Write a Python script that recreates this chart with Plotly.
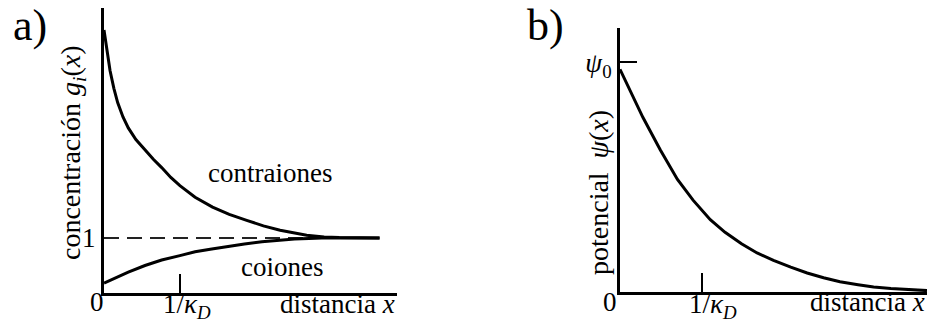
import plotly.graph_objects as go

# ---- Data (x in units of 1/kappa_D) ----
# Panel a: concentration g_i(x)
x_contra = [0, 0.04, 0.08, 0.13, 0.18, 0.25, 0.32, 0.42, 0.54, 0.65, 0.76, 0.88, 1.0, 1.2, 1.43, 1.65, 1.88, 2.1, 2.32, 2.5, 2.67, 2.9, 3.1, 3.63]
g_contra = [4.78, 4.40, 4.04, 3.72, 3.46, 3.20, 3.0, 2.79, 2.6, 2.43, 2.28, 2.10, 1.95, 1.74, 1.56, 1.43, 1.32, 1.22, 1.14, 1.09, 1.05, 1.02, 1.01, 1.0]
x_coion = [0, 0.15, 0.32, 0.54, 0.76, 1.0, 1.2, 1.42, 1.63, 1.85, 2.08, 2.3, 2.51, 2.7, 2.87, 3.63]
g_coion = [0.18, 0.28, 0.38, 0.50, 0.60, 0.68, 0.75, 0.80, 0.85, 0.89, 0.93, 0.96, 0.98, 0.99, 1.0, 1.0]
x_bulk = [0, 3.63]
g_bulk = [1, 1]

# Panel b: potential psi(x) / psi_0
x_pot = [0, 0.12, 0.28, 0.49, 0.70, 0.89, 1.10, 1.28, 1.48, 1.67, 1.87, 2.08, 2.28, 2.48, 2.68, 2.9, 3.09, 3.3, 3.5, 3.74]
psi_pot = [0.97, 0.88, 0.76, 0.62, 0.49, 0.40, 0.315, 0.26, 0.21, 0.17, 0.138, 0.108, 0.083, 0.062, 0.045, 0.032, 0.022, 0.015, 0.01, 0.006]

xtick_vals = [1]
xtick_text = ["1/<i>κ</i><sub><i>D</i></sub>"]
ya_tick_vals = [1]
ya_tick_text = ["1"]
yb_tick_vals = [1]
yb_tick_text = ["<i>ψ</i><sub>0</sub>"]

FONT = "Times New Roman"   # set explicitly on every text
BASE_FONT = "serif"        # layout default
FS = 27
W, H = 928, 324

fig = go.Figure()
fig.add_trace(go.Scatter(x=x_bulk, y=g_bulk, mode="lines",
                         line=dict(color="#222", width=2.2, dash="15px,8px"),
                         xaxis="x", yaxis="y", showlegend=False, hoverinfo="skip"))
fig.add_trace(go.Scatter(x=x_contra, y=g_contra, mode="lines",
                         line=dict(color="black", width=3), xaxis="x", yaxis="y", showlegend=False))
fig.add_trace(go.Scatter(x=x_coion, y=g_coion, mode="lines",
                         line=dict(color="black", width=3), xaxis="x", yaxis="y", showlegend=False))
fig.add_trace(go.Scatter(x=x_pot, y=psi_pot, mode="lines",
                         line=dict(color="black", width=3), xaxis="x2", yaxis="y2", showlegend=False))

axis_common = dict(showgrid=False, zeroline=False, showline=True, linecolor="black",
                   linewidth=3, automargin=False,
                   tickfont=dict(family=FONT, size=FS, color="black"))

fig.update_layout(
    width=W, height=H, margin=dict(l=0, r=0, t=0, b=0, autoexpand=False),
    paper_bgcolor="white", plot_bgcolor="white",
    font=dict(family=BASE_FONT, size=FS, color="black"),
    xaxis=dict(domain=[104 / W, 397 / W], range=[0, 3.86], anchor="y",
               tickvals=xtick_vals, ticktext=[""], ticks="inside", ticklen=19,
               tickwidth=2, tickcolor="black", **axis_common),
    yaxis=dict(domain=[(H - 293) / H, (H - 8) / H], range=[0, 5.18], anchor="x",
               tickvals=ya_tick_vals, ticktext=ya_tick_text, ticks="", **axis_common),
    xaxis2=dict(domain=[620 / W, 927 / W], range=[0, 3.74], anchor="y2",
                tickvals=xtick_vals, ticktext=[""], ticks="inside", ticklen=19,
                tickwidth=2, tickcolor="black", **axis_common),
    yaxis2=dict(domain=[(H - 292) / H, (H - 28) / H], range=[0, 1.15], anchor="x2",
                tickvals=yb_tick_vals, ticktext=yb_tick_text, ticks="inside", ticklen=17,
                tickwidth=2, tickcolor="black", **axis_common),
)

def ann(text, x, y, size=FS, angle=0, family=FONT):
    fig.add_annotation(text=text, x=x / W, y=1 - y / H, xref="paper", yref="paper",
                       showarrow=False, textangle=angle, xanchor="center", yanchor="middle",
                       font=dict(family=family, size=size, color="black"))

ann("a)", 30, 25, size=44)
ann("b)", 545, 25, size=44)
ann("concentración <i>g</i><sub><i>i</i></sub>(<i>x</i>)", 72, 153, angle=-90, size=28)
ann("potencial  <i>ψ</i>(<i>x</i>)", 598, 193, angle=-90, size=28)
ann("contraiones", 270, 173)
ann("coiones", 282, 267)
ann("distancia <i>x</i>", 337, 304)
ann("distancia <i>x</i>", 867, 302)
ann("0", 97, 302)
ann("0", 610, 302)
ann(xtick_text[0], 187, 306)
ann(xtick_text[0], 713, 306)

fig.write_html("out.html")
